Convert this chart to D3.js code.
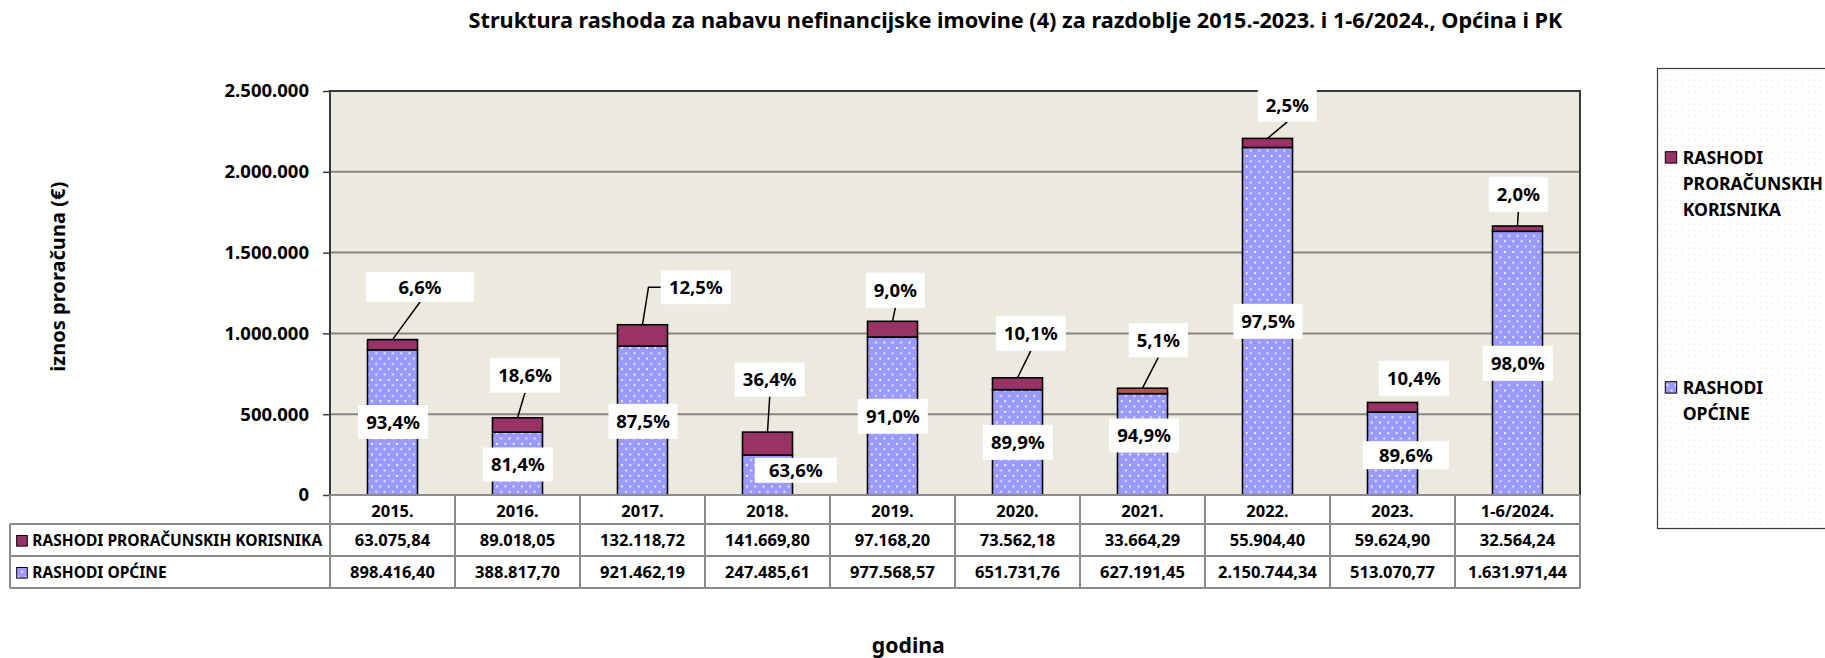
<!DOCTYPE html>
<html>
<head>
<meta charset="utf-8">
<script src="https://cdn.jsdelivr.net/npm/d3@7"></script>
<style>
  body { margin: 0; background: #fff; }
  svg { display: block; font-family: "Noto Sans", "Open Sans", sans-serif; font-weight: bold; }
</style>
</head>
<body>
<svg id="chart" width="1825" height="658"></svg>
<script>
  // data
  var categories = ['2015.', '2016.', '2017.', '2018.', '2019.', '2020.', '2021.', '2022.', '2023.', '1-6/2024.']
  var seriesNames = ['RASHODI PRORAČUNSKIH KORISNIKA', 'RASHODI OPĆINE']
  var rashodiPK = [63075.84, 89018.05, 132118.72, 141669.80, 97168.20, 73562.18, 33664.29, 55904.40, 59624.90, 32564.24]
  var rashodiOpcine = [898416.40, 388817.70, 921462.19, 247485.61, 977568.57, 651731.76, 627191.45, 2150744.34, 513070.77, 1631971.44]
  var pctPK = ['6,6%', '18,6%', '12,5%', '36,4%', '9,0%', '10,1%', '5,1%', '2,5%', '10,4%', '2,0%']
  var pctOpcine = ['93,4%', '81,4%', '87,5%', '63,6%', '91,0%', '89,9%', '94,9%', '97,5%', '89,6%', '98,0%']
  var yTicks = [0, 500000, 1000000, 1500000, 2000000, 2500000]

  var title = 'Struktura rashoda za nabavu nefinancijske imovine (4) za razdoblje 2015.-2023. i 1-6/2024., Općina i PK'

  // label placement (offset from bar centre in px, centre height in €, box size)
  var topLabelLayout = [
    { dx: 27.5, v: 1287000, w: 108, h: 30, leader: 'bottom' },
    { dx: 7.5, v: 741300, w: 70, h: 35, leader: 'bottom' },
    { dx: 53.3, v: 1285900, w: 70, h: 34, leader: 'left' },
    { dx: 2.2, v: 714700, w: 70, h: 34, leader: 'bottom' },
    { dx: 2.8, v: 1266700, w: 59, h: 35, leader: 'bottom' },
    { dx: 13.3, v: 1000600, w: 70, h: 35, leader: 'bottom' },
    { dx: 15.8, v: 957300, w: 59, h: 34, leader: 'bottom' },
    { dx: 19.8, v: 2408400, w: 59, h: 32, leader: 'bottom' },
    { dx: 21.3, v: 722100, w: 70, h: 35, leader: 'none' },
    { dx: 0.8, v: 1860700, w: 59, h: 35, leader: 'bottom' }
  ]
  var bottomLabelLayout = [
    { dx: 0.5, v: 451700, w: 70, h: 34 },
    { dx: 0.3, v: 188700, w: 70, h: 34 },
    { dx: 0.5, v: 456000, w: 69, h: 35 },
    { dx: 28.3, v: 152800, w: 82, h: 25 },
    { dx: 0.3, v: 487000, w: 70, h: 35 },
    { dx: 0.3, v: 326100, w: 70, h: 35 },
    { dx: 1.5, v: 368200, w: 70, h: 34 },
    { dx: 0.5, v: 1074900, w: 69, h: 35 },
    { dx: 13.3, v: 246300, w: 86, h: 28 },
    { dx: 0.3, v: 815000, w: 70, h: 35 }
  ]

  var colorPK = '#993366'
  var colorPKSpecial = { '2021.': '#C0504D' }
  var colorOpcine = '#9999FF'
  var colorPlot = '#ECE9DF'
  var colorGrid = '#868686'
  var colorTable = '#8A8A8A'

  var plotLeft = 330, plotRight = 1580, plotTop = 91, plotBottom = 495
  var rowH = [29, 32, 32]
  var tableLeft = 10

  var loc = d3.formatLocale({ decimal: ',', thousands: '.', grouping: [3], currency: ['', ''] })
  var fmtTick = loc.format(',.0f')
  var fmtVal = loc.format(',.2f')

  var svg = d3.select('#chart')
  var defs = svg.append('defs')

  // dotted fill like the excel pattern
  var pat = defs.append('pattern').attr('id', 'dots')
    .attr('patternUnits', 'userSpaceOnUse').attr('width', 8.33).attr('height', 10.66)
  pat.append('rect').attr('width', 8.33).attr('height', 10.66).attr('fill', colorOpcine)
  pat.append('rect').attr('x', 0.5).attr('y', 0.5).attr('width', 1.8).attr('height', 1.8).attr('fill', '#fff')
  pat.append('rect').attr('x', 4.67).attr('y', 5.83).attr('width', 1.8).attr('height', 1.8).attr('fill', '#fff')

  var legPat = defs.append('pattern').attr('id', 'legdots')
    .attr('patternUnits', 'userSpaceOnUse').attr('width', 6).attr('height', 6)
  legPat.append('rect').attr('width', 6).attr('height', 6).attr('fill', '#fff')
  legPat.append('rect').attr('x', 2).attr('y', 2).attr('width', 1).attr('height', 1).attr('fill', '#dcdcdc')

  var x = d3.scaleBand().domain(categories).range([plotLeft, plotRight])
  var xBar = x.copy().paddingInner(0.6).paddingOuter(0.3)
  var y = d3.scaleLinear().domain([0, 2500000]).range([plotBottom, plotTop])

  function fitWidth(sel, w) {
    sel.each(function () {
      var cur = this.getComputedTextLength()
      var fs = parseFloat(d3.select(this).style('font-size'))
      d3.select(this).style('font-size', (fs * w / cur) + 'px')
    })
  }

  // title
  svg.append('text').attr('x', 1015.5).attr('y', 28).attr('text-anchor', 'middle')
    .style('font-size', '19px').text(title).call(fitWidth, 1095)

  // plot background and grid
  svg.append('rect').attr('x', plotLeft).attr('y', plotTop)
    .attr('width', plotRight - plotLeft).attr('height', plotBottom - plotTop).attr('fill', colorPlot)

  svg.append('g').selectAll('line').data(yTicks.slice(1, -1)).join('line')
    .attr('x1', plotLeft).attr('x2', plotRight)
    .attr('y1', function (d) { return y(d) }).attr('y2', function (d) { return y(d) })
    .attr('stroke', colorGrid).attr('stroke-width', 2)

  // stacked bars
  var rows = categories.map(function (c, i) {
    return { cat: c, opcine: rashodiOpcine[i], pk: rashodiPK[i] }
  })
  var stack = d3.stack().keys(['opcine', 'pk'])(rows)

  svg.append('g').selectAll('g').data(stack).join('g')
    .selectAll('rect').data(function (s) { return s.map(function (d) { d.key = s.key; return d }) }).join('rect')
    .attr('x', function (d) { return xBar(d.data.cat) })
    .attr('width', xBar.bandwidth())
    .attr('y', function (d) { return y(d[1]) })
    .attr('height', function (d) { return y(d[0]) - y(d[1]) })
    .attr('fill', function (d) {
      if (d.key === 'opcine') return 'url(#dots)'
      return colorPKSpecial[d.data.cat] || colorPK
    })
    .attr('stroke', '#000').attr('stroke-width', 1.6)

  // plot border
  svg.append('path')
    .attr('d', 'M' + plotLeft + ',' + plotBottom + 'V' + plotTop + 'H' + plotRight + 'V' + plotBottom)
    .attr('fill', 'none').attr('stroke', '#3a3a3a').attr('stroke-width', 2)

  // y axis
  var yAxis = svg.append('g').attr('transform', 'translate(' + plotLeft + ',0)')
    .call(d3.axisLeft(y).tickValues(yTicks).tickFormat(fmtTick).tickSize(7).tickPadding(14))
  yAxis.select('.domain').remove()
  yAxis.selectAll('.tick line').attr('stroke', '#3a3a3a').attr('stroke-width', 1.5)
  yAxis.selectAll('.tick text').attr('fill', '#000')
    .style('font-family', '"Noto Sans", sans-serif').style('font-weight', 'bold').style('font-size', '18.5px')

  svg.append('text').attr('transform', 'translate(65,276.7) rotate(-90)').attr('text-anchor', 'middle')
    .style('font-size', '19px').text('iznos proračuna (€)').call(fitWidth, 190)

  svg.append('text').attr('x', 908.3).attr('y', 652.5).attr('text-anchor', 'middle')
    .style('font-size', '21px').text('godina').call(fitWidth, 73)

  // data labels
  var labels = svg.append('g')
  categories.forEach(function (c, i) {
    var cx = x(c) + x.bandwidth() / 2
    var top = y(rashodiOpcine[i] + rashodiPK[i])
    var L = topLabelLayout[i]
    var lx = cx + L.dx, ly = y(L.v)
    if (L.leader === 'bottom') {
      labels.append('line').attr('x1', lx).attr('y1', ly + L.h / 2).attr('x2', cx).attr('y2', top)
        .attr('stroke', '#000').attr('stroke-width', 1.5)
    } else if (L.leader === 'left') {
      labels.append('polyline')
        .attr('points', [[lx - L.w / 2, ly], [cx + 6, ly], [cx, top]].join(' '))
        .attr('fill', 'none').attr('stroke', '#000').attr('stroke-width', 1.5)
    }
    ;[[L, pctPK[i]], [bottomLabelLayout[i], pctOpcine[i]]].forEach(function (p) {
      var b = p[0]
      var bx = cx + b.dx, by = y(b.v)
      labels.append('rect').attr('x', bx - b.w / 2).attr('y', by - b.h / 2)
        .attr('width', b.w).attr('height', b.h).attr('fill', '#fff')
      labels.append('text').attr('x', bx).attr('y', by).attr('dy', '0.36em')
        .attr('text-anchor', 'middle').style('font-size', '18.5px').text(p[1])
    })
  })

  // data table
  var t = svg.append('g')
  var yH0 = plotBottom, yR1 = yH0 + rowH[0], yR2 = yR1 + rowH[1], yEnd = yR2 + rowH[2]
  function tline(x1, y1, x2, y2) {
    t.append('line').attr('x1', x1).attr('y1', y1).attr('x2', x2).attr('y2', y2)
      .attr('stroke', colorTable).attr('stroke-width', 2)
  }
  tline(tableLeft, yR1, plotRight, yR1)
  tline(tableLeft, yR2, plotRight, yR2)
  tline(tableLeft, yEnd, plotRight, yEnd)
  tline(tableLeft, yR1, tableLeft, yEnd)
  categories.forEach(function (c) { tline(x(c), yH0, x(c), yEnd) })
  tline(plotRight, yH0, plotRight, yEnd)
  tline(plotLeft, yH0, plotRight, yH0)

  categories.forEach(function (c, i) {
    var cx = x(c) + x.bandwidth() / 2
    t.append('text').attr('x', cx).attr('y', yH0 + 21.5).attr('text-anchor', 'middle')
      .style('font-size', '16.5px').text(c)
    t.append('text').attr('x', cx).attr('y', yR1 + 22).attr('text-anchor', 'middle')
      .style('font-size', '16.5px').text(fmtVal(rashodiPK[i]))
    t.append('text').attr('x', cx).attr('y', yR2 + 22).attr('text-anchor', 'middle')
      .style('font-size', '16.5px').text(fmtVal(rashodiOpcine[i]))
  })

  var keyFills = [colorPK, 'url(#dots)']
  var keyText = []
  ;[yR1, yR2].forEach(function (ry, k) {
    t.append('rect').attr('x', 16.7).attr('y', ry + 11.5).attr('width', 10.6).attr('height', 10.6)
      .attr('fill', keyFills[k]).attr('stroke', '#000').attr('stroke-width', 1)
    keyText.push(t.append('text').attr('x', 32.3).attr('y', ry + 22).style('font-size', '15px').text(seriesNames[k]))
  })
  keyText[0].call(fitWidth, 290)
  keyText[1].style('font-size', keyText[0].style('font-size'))

  // legend
  var leg = svg.append('g')
  leg.append('rect').attr('x', 1657.5).attr('y', 68.5).attr('width', 200).attr('height', 460)
    .attr('fill', 'url(#legdots)').attr('stroke', '#3a3a3a').attr('stroke-width', 1.2)
  var legLines = [['RASHODI', 'PRORAČUNSKIH', 'KORISNIKA'], ['RASHODI', 'OPĆINE']]
  var legTop = [151.7, 381.7]
  legLines.forEach(function (lines, k) {
    leg.append('rect').attr('x', 1665.3).attr('y', legTop[k]).attr('width', 11.4).attr('height', 11.4)
      .attr('fill', keyFills[k]).attr('stroke', '#000').attr('stroke-width', 1)
    lines.forEach(function (s, j) {
      leg.append('text').attr('x', 1682.7).attr('y', legTop[k] + 11.8 + j * 26)
        .style('font-size', '17.6px').text(s)
    })
  })
</script>
</body>
</html>
